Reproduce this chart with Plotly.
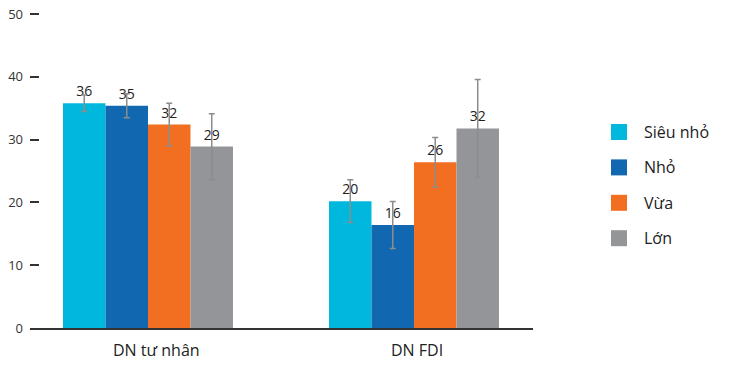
import plotly.graph_objects as go

categories = ["DN tư nhân", "DN FDI"]
series_names = ["Siêu nhỏ", "Nhỏ", "Vừa", "Lớn"]
series_colors = ["#00B8DE", "#1268B0", "#F26F21", "#939598"]
values = {
    "Siêu nhỏ": [35.8, 20.2],
    "Nhỏ": [35.4, 16.4],
    "Vừa": [32.4, 26.4],
    "Lớn": [28.9, 31.8],
}
value_labels = {
    "Siêu nhỏ": ["36", "20"],
    "Nhỏ": ["35", "16"],
    "Vừa": ["32", "26"],
    "Lớn": ["29", "32"],
}
errors = {
    "Siêu nhỏ": [1.3, 3.4],
    "Nhỏ": [1.9, 3.75],
    "Vừa": [3.4, 3.95],
    "Lớn": [5.25, 7.8],
}
y_ticks = [0, 10, 20, 30, 40, 50]

W, H = 744, 366
# plot area in window pixels: x 30..533, y 11..328
ML, MT = 30, 11
MR = W - 533
MB = H - 328
PW, PH = W - ML - MR, H - MT - MB

FONT = "Open Sans, Noto Sans, sans-serif"

fig = go.Figure()
for name, color in zip(series_names, series_colors):
    fig.add_trace(go.Bar(
        name=name,
        x=categories,
        y=values[name],
        marker=dict(color=color, line=dict(width=0)),
        text=value_labels[name],
        textposition="outside",
        textfont=dict(size=14, color="#222222", family=FONT),
        cliponaxis=False,
        error_y=dict(type="data", array=errors[name], visible=True,
                     color="#8C8C8C", thickness=1.5, width=3),
        showlegend=False,
    ))

# category labels (slightly offset as in the original)
cat_xshift = [8, 3]
for cat, dx in zip(categories, cat_xshift):
    fig.add_annotation(x=cat, y=0, xref="x", yref="y", text=cat, showarrow=False,
                       xanchor="center", yanchor="middle", xshift=dx, yshift=-22,
                       font=dict(size=16, color="#222222", family=FONT))

# manual legend (window pixel layout converted to paper coords)
def px_x(px):
    return (px - ML) / PW

def px_y(py):
    return (H - MB - py) / PH

legend_top = 132
legend_step = 35.4
for i, (name, color) in enumerate(zip(series_names, series_colors)):
    cy = legend_top + i * legend_step
    fig.add_shape(type="rect", xref="paper", yref="paper",
                  x0=px_x(611), x1=px_x(627), y0=px_y(cy - 8), y1=px_y(cy + 8),
                  fillcolor=color, line=dict(width=0))
    fig.add_annotation(xref="paper", yref="paper", x=px_x(642), y=px_y(cy),
                       text=name, showarrow=False, xanchor="left", yanchor="middle",
                       font=dict(size=16, color="#222222", family=FONT))

fig.update_layout(
    width=W, height=H,
    margin=dict(l=ML, r=MR, t=MT, b=MB, pad=0, autoexpand=False),
    paper_bgcolor="white", plot_bgcolor="white",
    barmode="group", bargap=0.361, bargroupgap=0,
    font=dict(family=FONT, color="#222222"),
    xaxis=dict(
        type="category", range=[-0.4436, 1.4474], automargin=False,
        showline=True, linecolor="#333333", linewidth=1.5,
        ticks="", showgrid=False, zeroline=False, showticklabels=False,
    ),
    yaxis=dict(
        range=[0, 50.5], tickvals=y_ticks, automargin=False,
        showline=False, showgrid=False, zeroline=False,
        ticks="inside", ticklen=9, tickwidth=1.5, tickcolor="#333333",
        tickfont=dict(size=13, color="#333333"),
        ticklabelstandoff=6,
    ),
)

fig.write_html("out.html",
               config={"displayModeBar": False},
               post_script="document.body.style.margin='0';document.body.style.overflow='hidden';")
